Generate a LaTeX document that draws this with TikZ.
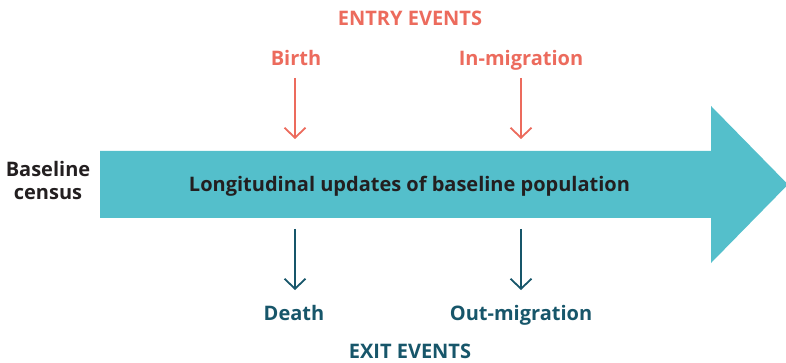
\documentclass[tikz,border=0pt]{standalone}
\usepackage{fontspec}
\setmainfont{Open Sans}
\usetikzlibrary{arrows.meta}
\definecolor{entry}{HTML}{EC6B5D}
\definecolor{exit}{HTML}{17566A}
\definecolor{band}{HTML}{54BFCB}
\definecolor{ink}{HTML}{231F20}
\begin{document}
\begin{tikzpicture}[x=1pt,y=-1pt,
  lbl/.style={font=\bfseries\fontsize{20}{24}\selectfont, inner sep=0pt, anchor=base},
  entrylbl/.style={lbl, text=entry},
  exitlbl/.style={lbl, text=exit},
  evarrow/.style={line width=1.8pt, -{Straight Barb[length=10pt,width=21pt,line width=1.8pt]}}]
\useasboundingbox (0,0) rectangle (786,363);
% timeline band with arrow head
\fill[band] (100,151) -- (711,151) -- (711,106) -- (788,184.5) -- (711,263) -- (711,218) -- (100,218) -- cycle;
\node[lbl, text=ink] (timeline) at (409.5,191.5) {Longitudinal updates of baseline population};
\node[lbl, text=ink] (baseline1) at (48,177) {Baseline};
\node[lbl, text=ink] (baseline2) at (48,200) {census};
% entry events
\node[entrylbl] (entry) at (410,26) {ENTRY EVENTS};
\node[entrylbl] (birth) at (296,66) {Birth};
\node[entrylbl] (inmig) at (521,66) {In-migration};
\coordinate (birthstart) at (295,78);
\coordinate (birthend) at (295,139);
\coordinate (inmigstart) at (521,78);
\coordinate (inmigend) at (521,139);
\draw[evarrow, entry] (birthstart) -- (birthend);
\draw[evarrow, entry] (inmigstart) -- (inmigend);
% exit events
\node[exitlbl] (death) at (294,320) {Death};
\node[exitlbl] (outmig) at (521,320) {Out-migration};
\node[exitlbl] (exitt) at (410,358.5) {EXIT EVENTS};
\coordinate (deathstart) at (295,229);
\coordinate (deathend) at (295,290);
\coordinate (outmigstart) at (521,229);
\coordinate (outmigend) at (521,290);
\draw[evarrow, exit] (deathstart) -- (deathend);
\draw[evarrow, exit] (outmigstart) -- (outmigend);
\end{tikzpicture}
\end{document}
